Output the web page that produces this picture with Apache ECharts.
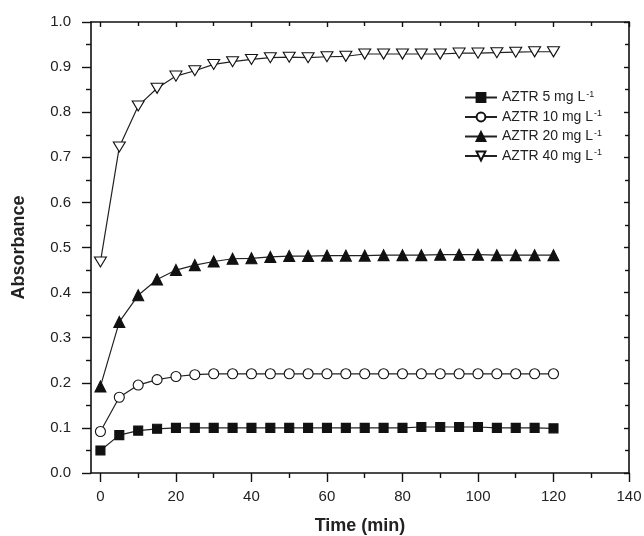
<!DOCTYPE html>
<html><head><meta charset="utf-8">
<script src="https://cdn.jsdelivr.net/npm/echarts@6/dist/echarts.min.js"></script>
<style>html,body{margin:0;padding:0;background:#fff}#c{width:644px;height:536px}</style>
</head><body><div id="c"></div>
<script>
const time = [0,5,10,15,20,25,30,35,40,45,50,55,60,65,70,75,80,85,90,95,100,105,110,115,120];
const aztr5 = [0.050,0.084,0.094,0.098,0.100,0.100,0.100,0.100,0.100,0.100,0.100,0.100,0.100,0.100,0.100,0.100,0.100,0.102,0.102,0.102,0.102,0.100,0.100,0.100,0.099];
const aztr10 = [0.092,0.168,0.195,0.207,0.214,0.218,0.220,0.220,0.220,0.220,0.220,0.220,0.220,0.220,0.220,0.220,0.220,0.220,0.220,0.220,0.220,0.220,0.220,0.220,0.220];
const aztr20 = [0.192,0.335,0.394,0.429,0.450,0.461,0.469,0.475,0.476,0.479,0.481,0.481,0.482,0.482,0.482,0.483,0.483,0.483,0.484,0.484,0.484,0.483,0.483,0.483,0.483];
const aztr40 = [0.468,0.723,0.814,0.853,0.880,0.892,0.906,0.912,0.917,0.921,0.922,0.921,0.923,0.924,0.929,0.929,0.929,0.929,0.929,0.931,0.931,0.932,0.933,0.934,0.934];
const seriesNames = ['AZTR 5 mg L', 'AZTR 10 mg L', 'AZTR 20 mg L', 'AZTR 40 mg L'];
const xMajorTicks = [0,20,40,60,80,100,120,140];
const xMinorTicks = [10,30,50,70,90,110,130];

const pair = arr => time.map((t,i)=>[t,arr[i]]);
const FONT = 'Liberation Sans, Arial, sans-serif';
const INK = '#111';

function xAx(pos, ticks, len, inside, labels, line){
  return {
    type:'value', position:pos, min:-2.5, max:140,
    axisLine:{show:line, onZero:false, lineStyle:{color:INK,width:1.6}},
    axisTick:{show:true, inside:inside, length:len, customValues:ticks, lineStyle:{color:INK,width:1.4}},
    axisLabel:{show:labels, customValues:ticks, margin:16, fontSize:15, color:'#222', fontFamily:FONT},
    splitLine:{show:false}
  };
}
function yAx(pos, inside, len, minorLen, labels){
  return {
    type:'value', position:pos, min:0, max:1.0, interval:0.1,
    axisLine:{show:true, onZero:false, lineStyle:{color:INK,width:1.6}},
    axisTick:{show:true, inside:inside, length:len, lineStyle:{color:INK,width:1.4}},
    minorTick:{show:true, splitNumber:2, length:minorLen, lineStyle:{color:INK,width:1.4}},
    axisLabel:{show:labels, margin:20, fontSize:15, color:'#222', fontFamily:FONT, formatter:v=>v.toFixed(1)},
    splitLine:{show:false}
  };
}

const xAxes = [
  Object.assign(xAx('bottom', xMajorTicks, 9, false, true, true), {
    name:'Time (min)', nameLocation:'middle', nameGap:44,
    nameTextStyle:{fontSize:18, fontWeight:'bold', color:'#222', fontFamily:FONT}
  }),
  xAx('bottom', xMinorTicks, 5, false, false, false),
  xAx('top', xMajorTicks, 5, true, false, true),
  xAx('top', xMinorTicks, 4, true, false, false)
];
const yAxes = [
  Object.assign(yAx('left', false, 9, 5, true), {
    name:'Absorbance', nameLocation:'middle', nameGap:63, nameRotate:90,
    nameTextStyle:{fontSize:18, fontWeight:'bold', color:'#222', fontFamily:FONT}
  }),
  yAx('right', true, 5, 4, false)
];

const downTri = 'path://M0,0 L12,0 L6,10 Z';
function mk(name, arr, symbol, size, fill){
  return {
    name, type:'line', data:pair(arr), xAxisIndex:0, yAxisIndex:0,
    symbol, symbolSize:size, showAllSymbol:true,
    lineStyle:{color:'#222', width:1.2},
    itemStyle:{color:fill, borderColor:INK, borderWidth:1.1},
    emphasis:{disabled:true}, animation:false, z:3
  };
}

const chart = echarts.init(document.getElementById('c'), null, {renderer:'canvas'});
chart.setOption({
  animation:false,
  grid:{left:91, right:15, top:22, bottom:63, containLabel:false, outerBoundsMode:'none'},
  xAxis:xAxes,
  yAxis:yAxes,
  legend:{
    orient:'vertical', left:459, top:85, itemWidth:32, itemHeight:11, itemGap:5,
    data:seriesNames.map((n,i)=>({name:n})),
    formatter:n=>n+'{sup|-1}',
    textStyle:{fontSize:14, color:'#222', fontFamily:FONT,
      rich:{sup:{fontSize:9, verticalAlign:'top', padding:[0,0,6,1], color:'#222', fontFamily:FONT}}},
    inactiveColor:'#222'
  },
  series:[
    mk(seriesNames[0], aztr5, 'rect', 9, INK),
    mk(seriesNames[1], aztr10, 'circle', 10, '#fff'),
    mk(seriesNames[2], aztr20, 'triangle', 11, INK),
    mk(seriesNames[3], aztr40, downTri, [12,10], '#fff')
  ]
});
</script></body></html>
